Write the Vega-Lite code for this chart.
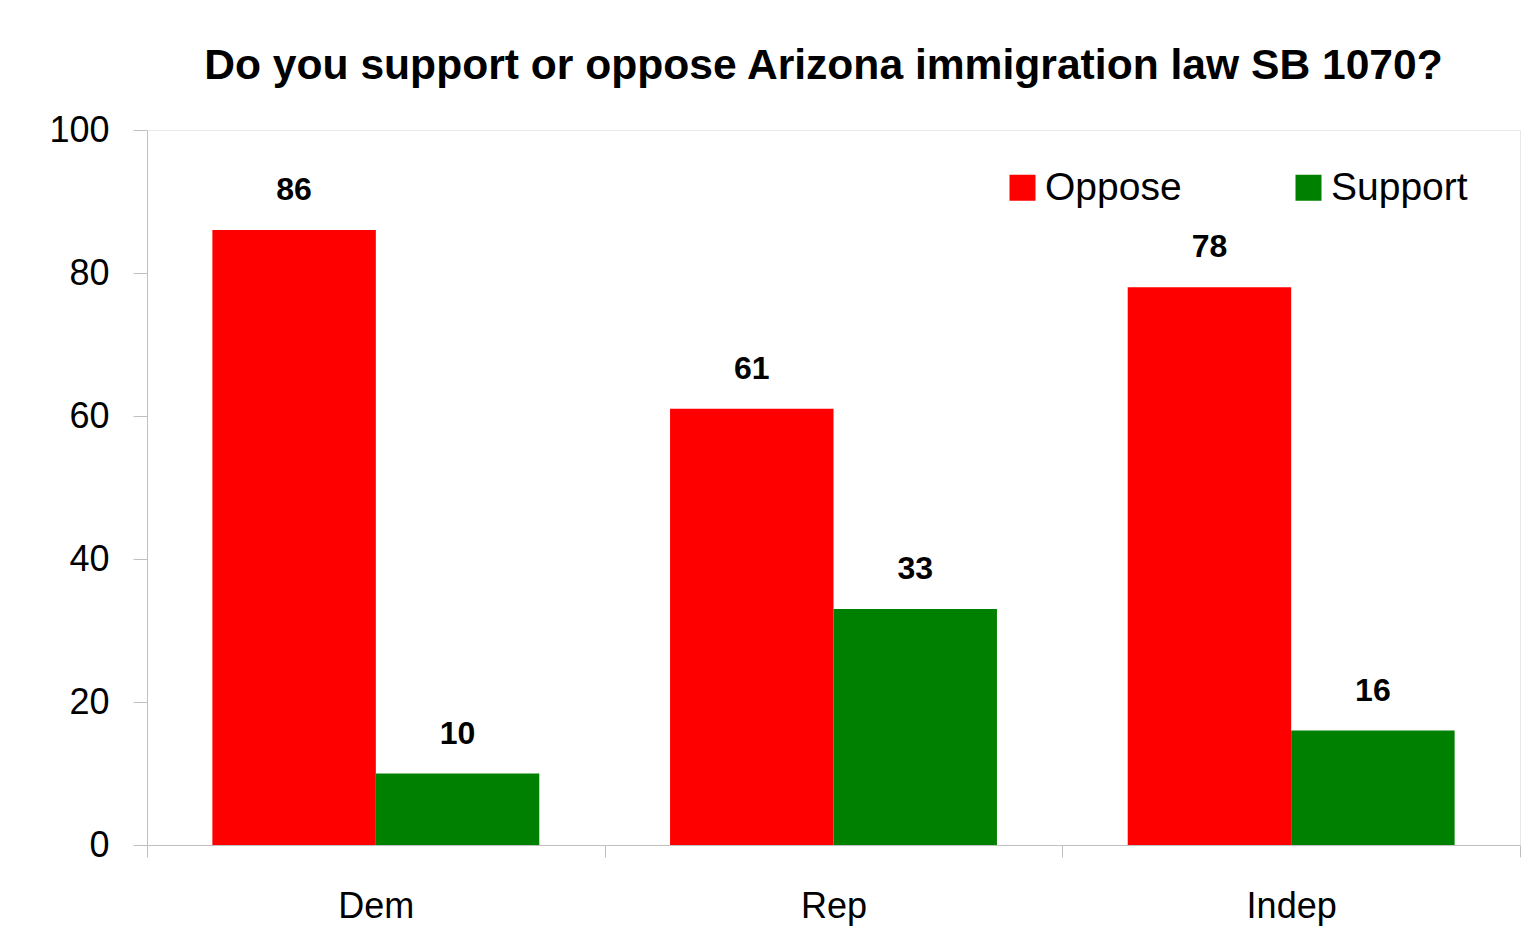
{
  "$schema": "https://vega.github.io/schema/vega-lite/v6.json",
  "width": 1373,
  "height": 715,
  "autosize": {"type": "none"},
  "padding": {"left": 147, "top": 130, "right": 12, "bottom": 94},
  "background": "white",
  "config": {
    "font": "Liberation Sans",
    "view": {"stroke": "#e8e8e8", "strokeWidth": 1}
  },
  "title": {
    "text": "Do you support or oppose Arizona immigration law SB 1070?",
    "fontSize": 42.6,
    "fontWeight": "bold",
    "font": "Liberation Sans",
    "color": "black",
    "anchor": "middle",
    "dx": -10,
    "baseline": "alphabetic",
    "offset": -10
  },
  "data": {
    "values": [
      {"party": "Dem", "response": "Oppose", "value": 86},
      {"party": "Dem", "response": "Support", "value": 10},
      {"party": "Rep", "response": "Oppose", "value": 61},
      {"party": "Rep", "response": "Support", "value": 33},
      {"party": "Indep", "response": "Oppose", "value": 78},
      {"party": "Indep", "response": "Support", "value": 16}
    ]
  },
  "encoding": {
    "x": {
      "field": "party",
      "type": "nominal",
      "sort": ["Dem", "Rep", "Indep"],
      "scale": {"paddingInner": 0, "paddingOuter": 0},
      "axis": {
        "title": null,
        "labelAngle": 0,
        "labelFontSize": 36,
        "labelColor": "black",
        "labelPadding": 32,
        "tickBand": "extent",
        "tickSize": 12,
        "tickColor": "#c0c0c0",
        "domainColor": "#c0c0c0",
        "grid": false
      }
    },
    "xOffset": {
      "field": "response",
      "type": "nominal",
      "scale": {"paddingInner": 0, "paddingOuter": 0.4}
    },
    "y": {
      "field": "value",
      "type": "quantitative",
      "scale": {"domain": [0, 100]},
      "axis": {
        "title": null,
        "values": [0, 20, 40, 60, 80, 100],
        "grid": false,
        "labelFontSize": 36,
        "labelColor": "black",
        "labelPadding": 24,
        "tickSize": 14,
        "tickColor": "#c0c0c0",
        "domainColor": "#c0c0c0"
      }
    }
  },
  "layer": [
    {
      "mark": {"type": "bar"},
      "encoding": {
        "color": {
          "field": "response",
          "type": "nominal",
          "scale": {"domain": ["Oppose", "Support"], "range": ["#FF0000", "#008000"]},
          "legend": {
            "title": null,
            "orient": "none",
            "legendX": 856,
            "legendY": 38,
            "direction": "horizontal",
            "padding": 0,
            "columnPadding": 107,
            "symbolType": "square",
            "symbolSize": 676,
            "symbolStrokeWidth": 0,
            "labelFontSize": 39,
            "labelColor": "black",
            "labelOffset": 3,
            "labelLimit": 300
          }
        }
      }
    },
    {
      "mark": {
        "type": "text",
        "fontSize": 32,
        "fontWeight": "bold",
        "baseline": "alphabetic",
        "dy": -30,
        "color": "black"
      },
      "encoding": {
        "text": {"field": "value", "type": "quantitative"}
      }
    }
  ]
}
